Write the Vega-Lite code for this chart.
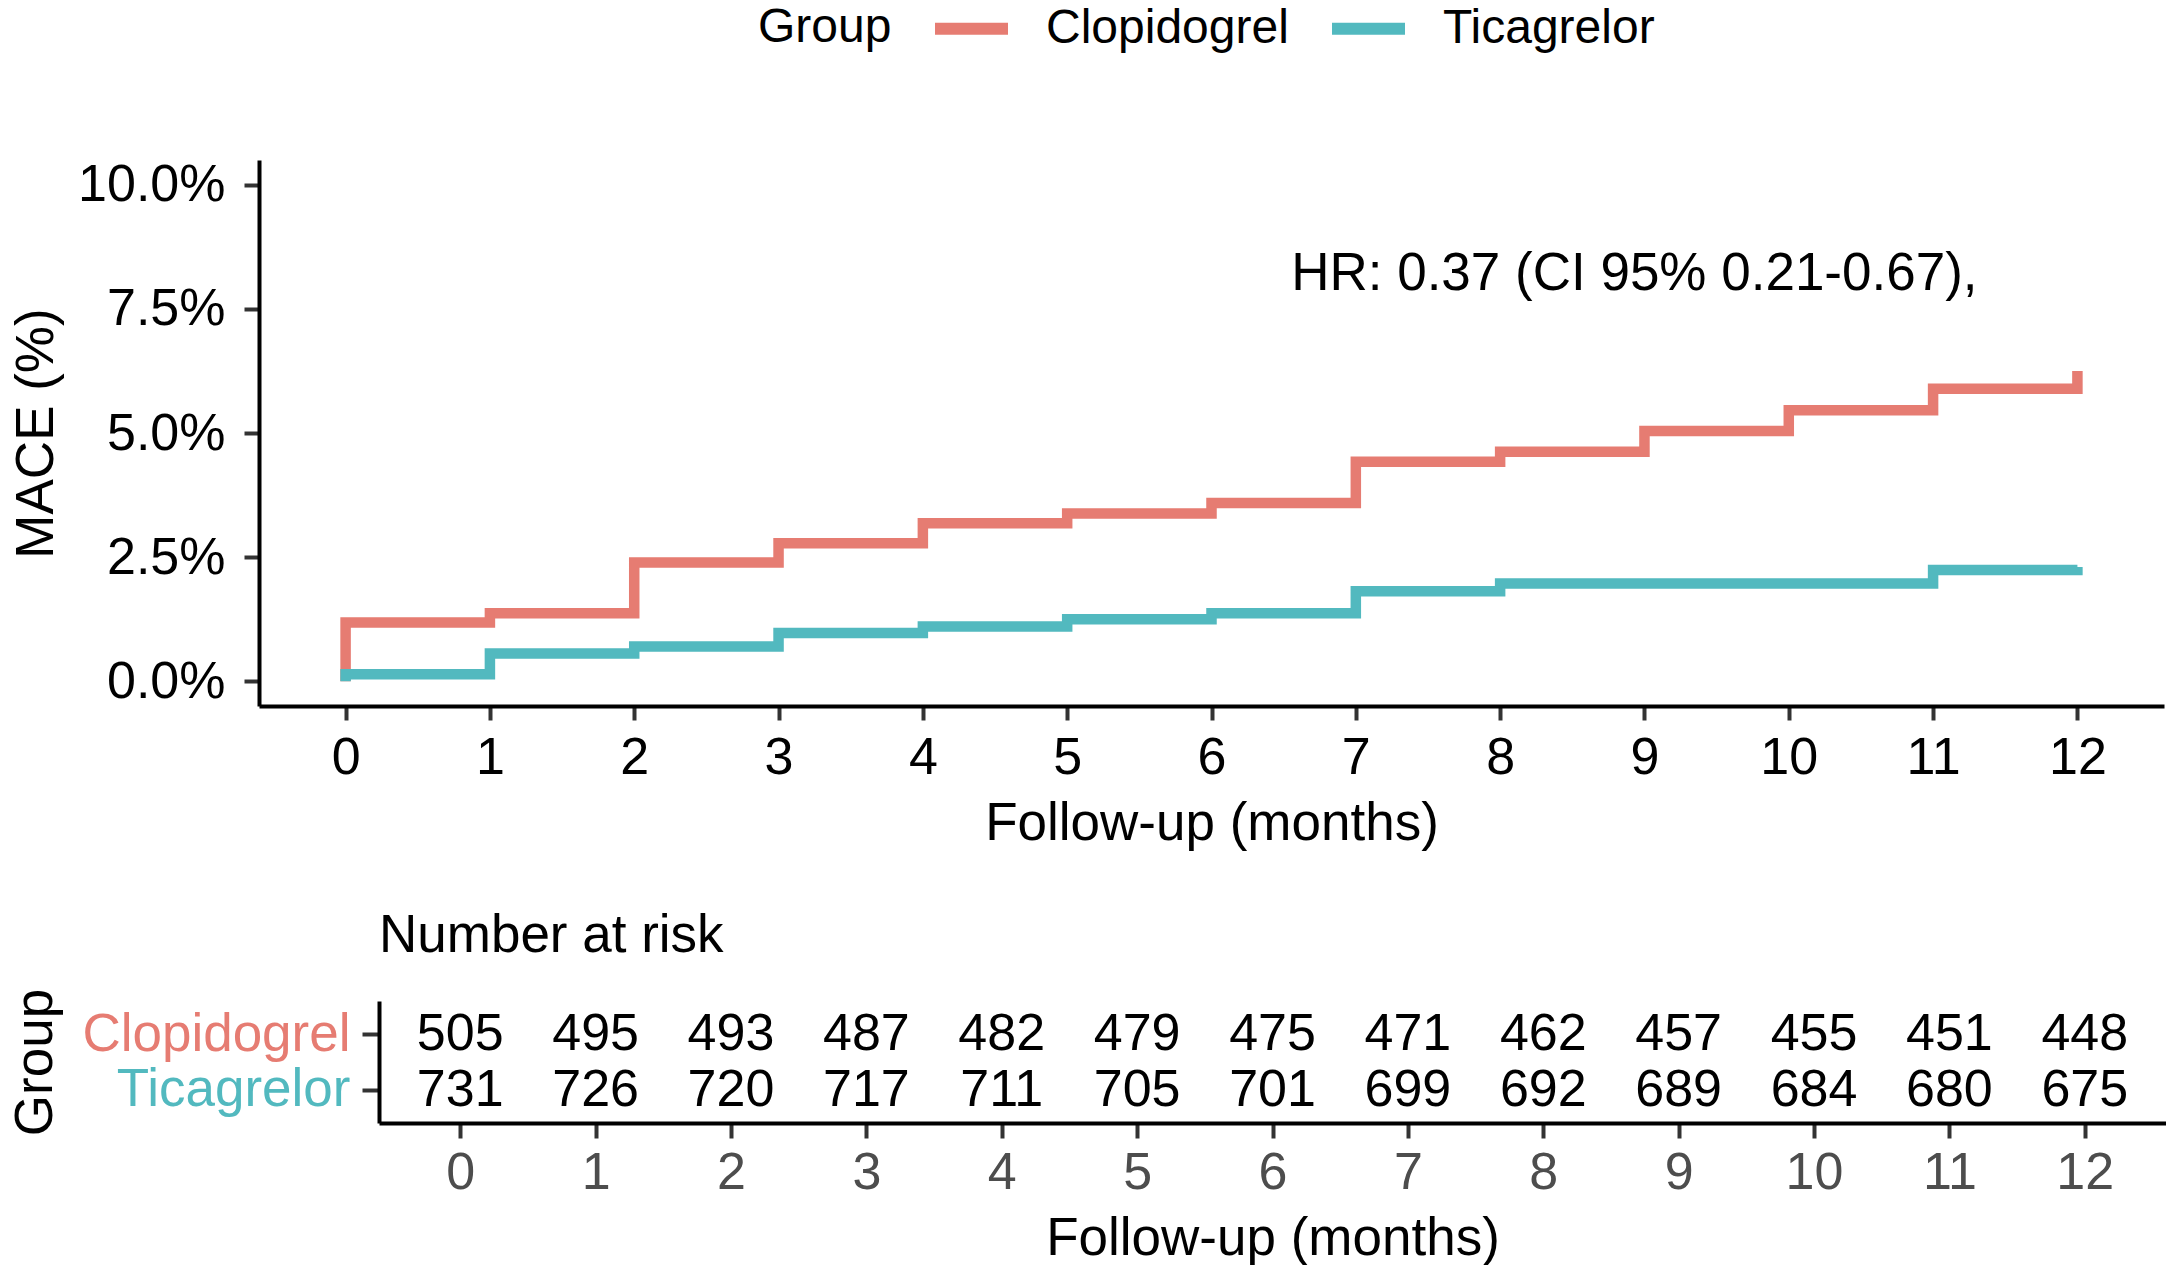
{
  "$schema": "https://vega.github.io/schema/vega-lite/v6.json",
  "padding": {"left": 9, "top": 4, "right": 0, "bottom": 0},
  "background": "white",
  "spacing": 60,
  "config": {
    "font": "Liberation Sans",
    "view": {"stroke": null},
    "axis": {
      "grid": false,
      "domainColor": "black",
      "domainWidth": 4,
      "tickColor": "#333333",
      "tickWidth": 4,
      "labelFontSize": 52,
      "labelColor": "black",
      "labelLimit": 1000,
      "titleFontSize": 53,
      "titleFontWeight": "normal",
      "titleColor": "black"
    }
  },
  "vconcat": [
    {
      "width": 1905,
      "height": 546,
      "layer": [
        {
          "data": {
            "values": [
              {"group": "Clopidogrel", "month": 0, "mace": 0},
              {"group": "Clopidogrel", "month": 0, "mace": 1.18},
              {"group": "Clopidogrel", "month": 1, "mace": 1.37},
              {"group": "Clopidogrel", "month": 2, "mace": 2.39},
              {"group": "Clopidogrel", "month": 3, "mace": 2.78},
              {"group": "Clopidogrel", "month": 4, "mace": 3.18},
              {"group": "Clopidogrel", "month": 5, "mace": 3.38},
              {"group": "Clopidogrel", "month": 6, "mace": 3.59},
              {"group": "Clopidogrel", "month": 7, "mace": 4.42},
              {"group": "Clopidogrel", "month": 8, "mace": 4.62},
              {"group": "Clopidogrel", "month": 9, "mace": 5.04},
              {"group": "Clopidogrel", "month": 10, "mace": 5.46},
              {"group": "Clopidogrel", "month": 11, "mace": 5.89},
              {"group": "Clopidogrel", "month": 12, "mace": 6.25},
              {"group": "Ticagrelor", "month": 0, "mace": 0},
              {"group": "Ticagrelor", "month": 0, "mace": 0.14},
              {"group": "Ticagrelor", "month": 1, "mace": 0.56},
              {"group": "Ticagrelor", "month": 2, "mace": 0.70},
              {"group": "Ticagrelor", "month": 3, "mace": 0.97},
              {"group": "Ticagrelor", "month": 4, "mace": 1.10},
              {"group": "Ticagrelor", "month": 5, "mace": 1.25},
              {"group": "Ticagrelor", "month": 6, "mace": 1.37},
              {"group": "Ticagrelor", "month": 7, "mace": 1.81},
              {"group": "Ticagrelor", "month": 8, "mace": 1.97},
              {"group": "Ticagrelor", "month": 11, "mace": 2.24},
              {"group": "Ticagrelor", "month": 12, "mace": 2.30}
            ]
          },
          "mark": {"type": "line", "interpolate": "step-after", "strokeWidth": 10.5, "strokeCap": "butt", "strokeJoin": "miter"},
          "encoding": {
            "x": {
              "field": "month", "type": "quantitative",
              "scale": {"domain": [-0.6, 12.6], "nice": false, "zero": false},
              "axis": {"values": [0,1,2,3,4,5,6,7,8,9,10,11,12], "format": "d", "title": "Follow-up (months)", "tickSize": 14, "labelPadding": 12, "titlePadding": 14}
            },
            "y": {
              "field": "mace", "type": "quantitative",
              "scale": {"domain": [-0.5, 10.5], "nice": false, "zero": false},
              "axis": {"values": [0, 2.5, 5, 7.5, 10], "labelExpr": "format(datum.value / 100, '.1%')", "title": "MACE (%)", "tickSize": 15, "labelPadding": 19, "titlePadding": 14}
            },
            "color": {
              "field": "group", "type": "nominal",
              "scale": {"domain": ["Clopidogrel", "Ticagrelor"], "range": ["#E67C72", "#52B9BF"]},
              "legend": {
                "title": "Group",
                "orient": "none",
                "legendX": 499,
                "legendY": -156,
                "direction": "horizontal",
                "titleOrient": "left",
                "titleFontSize": 48,
                "titleFontWeight": "normal",
                "titleColor": "black",
                "titlePadding": 55,
                "titleLimit": 0,
                "labelFontSize": 48,
                "labelColor": "black",
                "labelLimit": 0,
                "labelOffset": 50,
                "columnPadding": 19,
                "symbolType": "M-2,0H2",
                "symbolSize": 1332,
                "symbolStrokeWidth": 12
              }
            }
          }
        },
        {
          "data": {"values": [{"month": 8.93, "mace": 7.88, "label": "HR: 0.37 (CI 95% 0.21-0.67),"}]},
          "mark": {"type": "text", "fontSize": 53, "align": "center", "baseline": "alphabetic", "color": "black"},
          "encoding": {
            "x": {"field": "month", "type": "quantitative"},
            "y": {"field": "mace", "type": "quantitative"},
            "text": {"field": "label"}
          }
        }
      ]
    },
    {
      "bounds": "flush",
      "spacing": 20,
      "hconcat": [
        {
          "width": 100,
          "height": 122,
          "data": {"values": []},
          "mark": {"type": "point"}
        },
        {
          "width": 1787,
          "height": 122,
          "title": {"text": "Number at risk", "anchor": "start", "fontSize": 53, "fontWeight": "normal", "color": "black", "offset": 25, "frame": "group"},
          "data": {
            "values": [
              {"group": "Clopidogrel", "month": 0, "n": 505},
              {"group": "Clopidogrel", "month": 1, "n": 495},
              {"group": "Clopidogrel", "month": 2, "n": 493},
              {"group": "Clopidogrel", "month": 3, "n": 487},
              {"group": "Clopidogrel", "month": 4, "n": 482},
              {"group": "Clopidogrel", "month": 5, "n": 479},
              {"group": "Clopidogrel", "month": 6, "n": 475},
              {"group": "Clopidogrel", "month": 7, "n": 471},
              {"group": "Clopidogrel", "month": 8, "n": 462},
              {"group": "Clopidogrel", "month": 9, "n": 457},
              {"group": "Clopidogrel", "month": 10, "n": 455},
              {"group": "Clopidogrel", "month": 11, "n": 451},
              {"group": "Clopidogrel", "month": 12, "n": 448},
              {"group": "Ticagrelor", "month": 0, "n": 731},
              {"group": "Ticagrelor", "month": 1, "n": 726},
              {"group": "Ticagrelor", "month": 2, "n": 720},
              {"group": "Ticagrelor", "month": 3, "n": 717},
              {"group": "Ticagrelor", "month": 4, "n": 711},
              {"group": "Ticagrelor", "month": 5, "n": 705},
              {"group": "Ticagrelor", "month": 6, "n": 701},
              {"group": "Ticagrelor", "month": 7, "n": 699},
              {"group": "Ticagrelor", "month": 8, "n": 692},
              {"group": "Ticagrelor", "month": 9, "n": 689},
              {"group": "Ticagrelor", "month": 10, "n": 684},
              {"group": "Ticagrelor", "month": 11, "n": 680},
              {"group": "Ticagrelor", "month": 12, "n": 675}
            ]
          },
          "mark": {"type": "text", "fontSize": 52, "color": "black", "baseline": "middle"},
          "encoding": {
            "x": {
              "field": "month", "type": "quantitative",
              "scale": {"domain": [-0.6, 12.6], "nice": false, "zero": false},
              "axis": {"values": [0,1,2,3,4,5,6,7,8,9,10,11,12], "format": "d", "title": "Follow-up (months)", "labelColor": "#4D4D4D", "tickSize": 15, "labelPadding": 9, "titlePadding": 14}
            },
            "y": {
              "field": "group", "type": "nominal",
              "sort": ["Clopidogrel", "Ticagrelor"],
              "scale": {"type": "point", "padding": 0.6},
              "axis": {
                "title": "Group",
                "titleX": -343.5,
                "titleY": 61,
                "titleBaseline": "middle",
                "tickSize": 17,
                "labelPadding": 12,
                "labelFontSize": 53,
                "labelColor": {"expr": "datum.value == 'Clopidogrel' ? '#E67C72' : '#52B9BF'"}
              }
            },
            "text": {"field": "n", "type": "quantitative"}
          }
        }
      ]
    }
  ]
}
